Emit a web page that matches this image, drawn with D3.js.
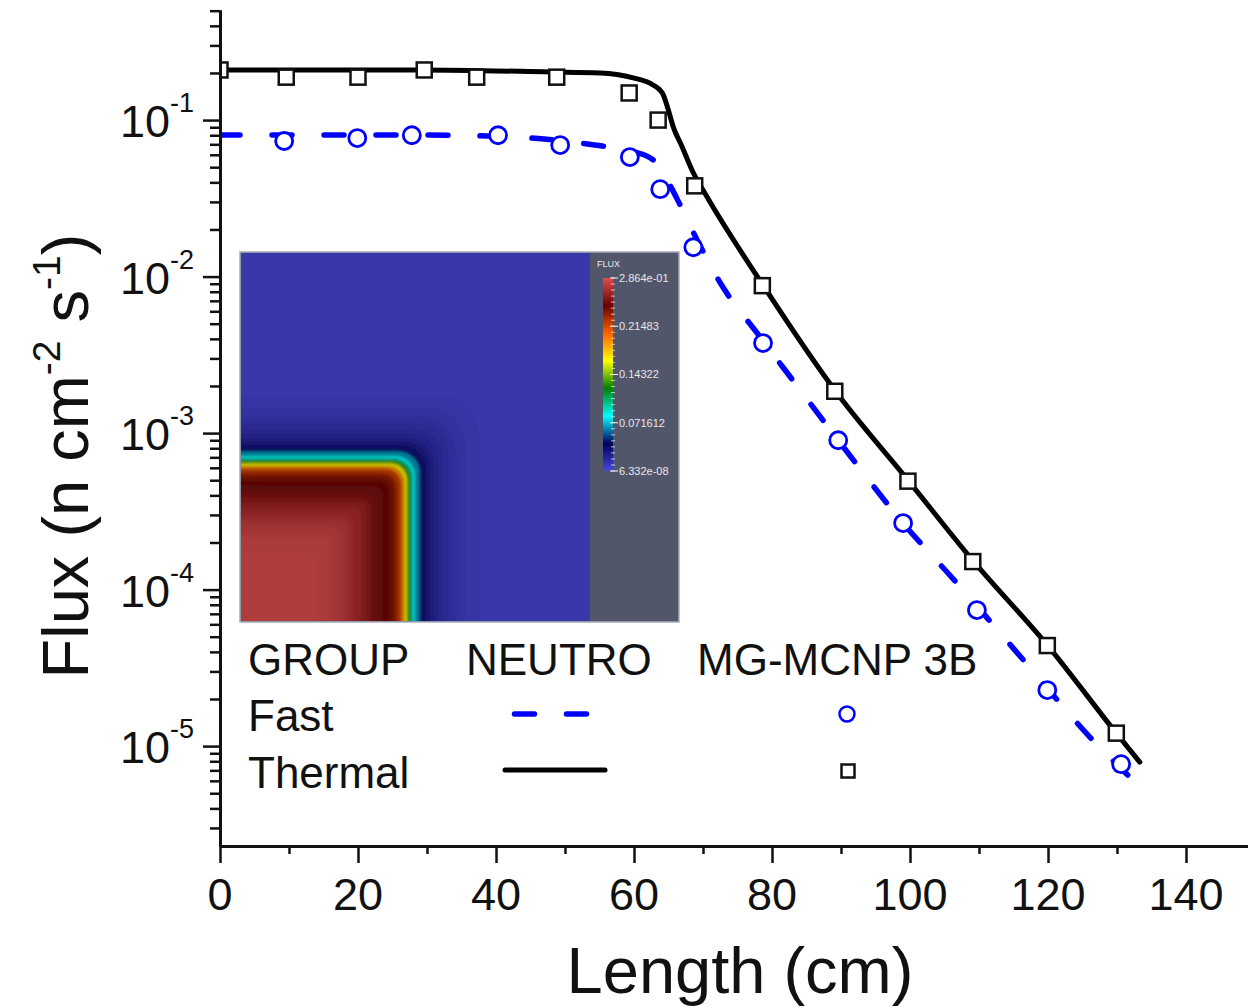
<!DOCTYPE html>
<html>
<head>
<meta charset="utf-8">
<script src="https://cdn.jsdelivr.net/npm/d3@7"></script>
<style>
  html, body { margin: 0; padding: 0; background: #fff; }
  svg { display: block; font-family: "Liberation Sans", Arial, sans-serif; }
</style>
</head>
<body>
<div id="chart"></div>
<script>
// NEUTRO solution (lines)
const thermalLength = [0, 29.0, 47.8, 55.1, 59.9, 62.3, 64.1, 64.9, 65.7, 67.0, 68.4, 70.6, 78.6, 89.1, 99.7, 109.4, 119.9, 129.9, 133.3];
const thermalFlux = [0.209, 0.209, 0.203, 0.200, 0.186, 0.172, 0.149, 0.119, 0.0902, 0.0671, 0.048, 0.0322, 0.00895, 0.00188, 5.01e-4, 1.48e-4, 4.42e-5, 1.21e-5, 7.9e-6];

const fastLength = [0, 30.1, 45.2, 52.2, 57.2, 60.1, 62.8, 64.8, 66.7, 68.8, 70.3, 72.0, 78.3, 83.0, 89.6, 99.0, 106.8, 116.7, 126.5, 132.3];
const fastFlux = [0.0802, 0.0802, 0.0767, 0.0713, 0.0662, 0.0625, 0.0555, 0.0414, 0.0286, 0.0184, 0.0137, 0.00993, 0.0041, 0.00218, 9.0e-4, 2.66e-4, 1.10e-4, 3.44e-5, 1.09e-5, 6.07e-6];

// MG-MCNP 3B reference (markers)
const mcnpThermalLength = [0, 9.6, 20.0, 29.6, 37.2, 48.8, 59.3, 63.5, 68.8, 78.6, 89.1, 99.7, 109.1, 119.9, 129.9];
const mcnpThermalFlux = [0.209, 0.188, 0.188, 0.209, 0.188, 0.188, 0.149, 0.100, 0.038, 0.00875, 1.85e-3, 4.93e-4, 1.51e-4, 4.39e-5, 1.21e-5];

const mcnpFastLength = [9.3, 19.9, 27.8, 40.3, 49.3, 59.4, 63.8, 68.6, 78.7, 89.6, 99.0, 109.7, 119.9, 130.6];
const mcnpFastFlux = [0.0735, 0.0767, 0.080, 0.080, 0.0692, 0.058, 0.0362, 0.0154, 0.00376, 9.0e-4, 2.66e-4, 7.4e-5, 2.28e-5, 7.67e-6];

// axis ticks
const xTickValues = [0, 20, 40, 60, 80, 100, 120, 140];
const xTickLabels = ["0", "20", "40", "60", "80", "100", "120", "140"];
const xMinorValues = [10, 30, 50, 70, 90, 110, 130];
const yTickValues = [1e-1, 1e-2, 1e-3, 1e-4, 1e-5];
const yTickExponents = ["-1", "-2", "-3", "-4", "-5"];

// legend
const legendHeaders = ["GROUP", "NEUTRO", "MG-MCNP 3B"];
const legendGroups = ["Fast", "Thermal"];

// inset: total flux across the core edge (distance from core centre, cm)
const insetEdge = [95, 90, 86, 83, 80, 76, 73.5, 72.2, 71.4, 69.6, 68.4, 67.4, 66.5, 65.3, 64, 62.5, 61, 59, 57, 54, 51, 48, 44, 40, 36, 30];
const insetFlux = [0.002, 0.004, 0.007, 0.011, 0.015, 0.026, 0.038, 0.05, 0.066, 0.082, 0.105, 0.135, 0.165, 0.19, 0.212, 0.232, 0.241, 0.246, 0.250, 0.256, 0.263, 0.270, 0.277, 0.282, 0.285, 0.2864];
const colorbarValues = [0.2864, 0.21483, 0.14322, 0.071612, 6.332e-8];
const colorbarLabels = ["2.864e-01", "0.21483", "0.14322", "0.071612", "6.332e-08"];

// ParaView "Rainbow Desaturated"
const rainbowStops = [0, 0.143, 0.285, 0.429, 0.571, 0.714, 0.857, 1];
const rainbowColors = ["#4747db", "#00005c", "#00ffff", "#008000", "#ffff00", "#ff6100", "#6b0000", "#e04d4d"];

const width = 1248, height = 1008;
const svg = d3.select("#chart").append("svg")
  .attr("width", width)
  .attr("height", height);

const x = d3.scaleLinear().domain([0, 150]).range([220, 1255]);
const y = d3.scaleLog().domain([2.3e-6, 0.505]).range([846, 10]);

const defs = svg.append("defs");
defs.append("clipPath").attr("id", "plotClip")
  .append("rect").attr("x", 220).attr("y", 0).attr("width", width - 220).attr("height", 846);

// ---- inset picture ----
const xi = d3.scaleLinear().domain([0, 140]).range([242, 590]);
const yi = d3.scaleLinear().domain([0, 155]).range([622, 252]);
const cMin = colorbarValues[4], cMax = colorbarValues[0];
const fluxColor = d3.scaleLinear()
  .domain(rainbowStops.map(t => cMin + t * (cMax - cMin)))
  .range(rainbowColors);
const shaded = v => d3.color(fluxColor(v)).darker(0.7).formatHex();

defs.append("clipPath").attr("id", "insetClip")
  .append("rect").attr("x", 241).attr("y", 253).attr("width", 349).attr("height", 368);
[["haloBlur", 5.5], ["edgeBlur", 1.0], ["coreBlur", 3]].forEach(([id, s]) => {
  defs.append("filter").attr("id", id)
    .attr("x", -0.2).attr("y", -0.2).attr("width", 1.4).attr("height", 1.4)
    .append("feGaussianBlur").attr("stdDeviation", s);
});
const grad = defs.append("linearGradient").attr("id", "cbGrad")
  .attr("x1", 0).attr("y1", 1).attr("x2", 0).attr("y2", 0);
grad.selectAll("stop").data(rainbowStops).join("stop")
  .attr("offset", d => d)
  .attr("stop-color", (d, i) => rainbowColors[i]);

const inset = svg.append("g");
inset.append("rect")
  .attr("x", 240).attr("y", 252).attr("width", 439).attr("height", 370)
  .attr("fill", "#52566b").attr("stroke", "#a9adbb").attr("stroke-width", 1.5);

const fieldClip = inset.append("g").attr("clip-path", "url(#insetClip)");
const bands = insetEdge.map((d, i) => ({ d, v: insetFlux[i] }));
const bandPath = b => {
  const x1 = xi(b.d), y1 = yi(b.d);
  const r = Math.max(8, 0.8 * (b.d - 45));
  return `M220,650 L220,${y1} L${x1 - r},${y1} A${r},${r} 0 0 1 ${x1},${y1 + r} L${x1},650 Z`;
};
const layers = [
  { id: "haloBlur", keep: b => b.d >= 73.5 },
  { id: "edgeBlur", keep: b => b.d < 73.5 && b.d > 62.5 },
  { id: "coreBlur", keep: b => b.d <= 62.5 }
];
layers.forEach((layer, li) => {
  const g = fieldClip.append("g").attr("filter", `url(#${layer.id})`);
  if (li === 0) {
    g.append("rect")
      .attr("x", 220).attr("y", 230).attr("width", 400).attr("height", 420)
      .attr("fill", shaded(0));
  }
  g.selectAll("path").data(bands.filter(layer.keep)).join("path")
    .attr("fill", b => shaded(b.v))
    .attr("d", bandPath);
});

// colorbar
const cb = d3.scaleLinear().domain([cMin, cMax]).range([471, 278]);
inset.append("rect")
  .attr("x", 603).attr("y", cb(cMax)).attr("width", 10).attr("height", cb(cMin) - cb(cMax))
  .attr("fill", "url(#cbGrad)");
const cbMinor = d3.range(0, 33).map(i => cMin + i * (cMax - cMin) / 32);
inset.selectAll("line.cbminor").data(cbMinor).join("line")
  .attr("x1", 611).attr("x2", 615)
  .attr("y1", d => cb(d)).attr("y2", d => cb(d))
  .attr("stroke", "#e6e6e6").attr("stroke-width", 0.8);
inset.selectAll("line.cbmajor").data(colorbarValues).join("line")
  .attr("x1", 610).attr("x2", 618)
  .attr("y1", d => cb(d)).attr("y2", d => cb(d))
  .attr("stroke", "#f2f2f2").attr("stroke-width", 1);
inset.selectAll("text.cblab").data(colorbarValues).join("text")
  .attr("x", 619).attr("y", d => cb(d) + 4)
  .attr("font-size", 11).attr("fill", "#e8e8e8")
  .text((d, i) => colorbarLabels[i]);
inset.append("text")
  .attr("x", 597).attr("y", 267)
  .attr("font-size", 9).attr("fill", "#e8e8e8")
  .text("FLUX");

// ---- series ----
const line = d3.line()
  .x(d => x(d[0]))
  .y(d => y(d[1]))
  .curve(d3.curveMonotoneX);

const plot = svg.append("g").attr("clip-path", "url(#plotClip)");

plot.append("path")
  .datum(fastLength.map((v, i) => [v, fastFlux[i]]))
  .attr("d", line)
  .attr("fill", "none").attr("stroke", "#0000ff").attr("stroke-width", 5.5)
  .attr("stroke-dasharray", "20,32").attr("stroke-linecap", "round");

plot.append("path")
  .datum(thermalLength.map((v, i) => [v, thermalFlux[i]]))
  .attr("d", line)
  .attr("fill", "none").attr("stroke", "#000").attr("stroke-width", 5)
  .attr("stroke-linejoin", "round").attr("stroke-linecap", "round");

plot.selectAll("rect.mcnpT")
  .data(mcnpThermalLength.map((v, i) => [v, mcnpThermalFlux[i]]))
  .join("rect")
  .attr("class", "mcnpT")
  .attr("x", d => x(d[0]) - 7.5).attr("y", d => y(d[1]) - 7.5)
  .attr("width", 15).attr("height", 15)
  .attr("fill", "#fff").attr("stroke", "#111").attr("stroke-width", 2.5);

plot.selectAll("circle.mcnpF")
  .data(mcnpFastLength.map((v, i) => [v, mcnpFastFlux[i]]))
  .join("circle")
  .attr("class", "mcnpF")
  .attr("cx", d => x(d[0])).attr("cy", d => y(d[1]))
  .attr("r", 8.5)
  .attr("fill", "#fff").attr("stroke", "#0000ff").attr("stroke-width", 2.8);

// ---- axes ----
const axisStyle = g => {
  g.select(".domain").attr("stroke-width", 3).attr("stroke", "#111");
  g.selectAll(".tick line").attr("stroke-width", 2.5).attr("stroke", "#111");
};

svg.append("g")
  .attr("transform", "translate(0,846)")
  .call(d3.axisBottom(x).tickValues(xMinorValues).tickSize(8).tickSizeOuter(0).tickFormat(""))
  .call(axisStyle);
svg.append("g")
  .attr("transform", "translate(0,846)")
  .call(d3.axisBottom(x).tickValues(xTickValues).tickSize(17).tickSizeOuter(0).tickFormat(""))
  .call(axisStyle);

const yMinor = y.ticks().filter(v => !yTickValues.some(t => Math.abs(t - v) / t < 1e-6));
svg.append("g")
  .attr("transform", "translate(220,0)")
  .call(d3.axisLeft(y).tickValues(yMinor).tickSize(10).tickSizeOuter(0).tickFormat(""))
  .call(axisStyle);
svg.append("g")
  .attr("transform", "translate(220,0)")
  .call(d3.axisLeft(y).tickValues(yTickValues).tickSize(17).tickSizeOuter(0).tickFormat(""))
  .call(axisStyle);

svg.selectAll("text.xlab").data(xTickValues).join("text")
  .attr("class", "xlab")
  .attr("x", d => x(d)).attr("y", 910)
  .attr("text-anchor", "middle").attr("font-size", 45).attr("fill", "#111")
  .text((d, i) => xTickLabels[i]);

const yl = svg.selectAll("text.ylab").data(yTickValues).join("text")
  .attr("class", "ylab")
  .attr("x", 194).attr("y", d => y(d) + 17)
  .attr("text-anchor", "end").attr("font-size", 45).attr("fill", "#111");
yl.append("tspan").text("10");
yl.append("tspan").attr("dy", -25).attr("font-size", 27).text((d, i) => yTickExponents[i]);

// axis titles
svg.append("text")
  .attr("x", 740).attr("y", 993)
  .attr("text-anchor", "middle").attr("font-size", 65).attr("fill", "#111")
  .text("Length (cm)");

const yt = svg.append("text")
  .attr("transform", "translate(88,456) rotate(-90)")
  .attr("text-anchor", "middle").attr("font-size", 65).attr("fill", "#111");
yt.append("tspan").text("Flux (n cm");
yt.append("tspan").attr("dy", -28).attr("font-size", 39).text("-2");
yt.append("tspan").attr("dy", 28).text(" s");
yt.append("tspan").attr("dy", -28).attr("font-size", 39).text("-1");
yt.append("tspan").attr("dy", 28).text(")");

// ---- legend ----
const legend = svg.append("g").attr("font-size", 44).attr("fill", "#111");
legend.selectAll("text.head").data(legendHeaders).join("text")
  .attr("class", "head")
  .attr("x", (d, i) => [248, 466, 697][i]).attr("y", 675)
  .text(d => d);
legend.selectAll("text.grp").data(legendGroups).join("text")
  .attr("class", "grp")
  .attr("x", 248).attr("y", (d, i) => 731 + i * 57)
  .text(d => d);

legend.append("line")
  .attr("x1", 514.5).attr("x2", 590).attr("y1", 714).attr("y2", 714)
  .attr("stroke", "#0000ff").attr("stroke-width", 5.5)
  .attr("stroke-dasharray", "20,32").attr("stroke-linecap", "round");
legend.append("line")
  .attr("x1", 505).attr("x2", 605).attr("y1", 770).attr("y2", 770)
  .attr("stroke", "#000").attr("stroke-width", 5).attr("stroke-linecap", "round");
legend.append("circle")
  .attr("cx", 847).attr("cy", 714).attr("r", 7.5)
  .attr("fill", "#fff").attr("stroke", "#0000ff").attr("stroke-width", 2.5);
legend.append("rect")
  .attr("x", 841.5).attr("y", 764.5).attr("width", 13).attr("height", 13)
  .attr("fill", "#fff").attr("stroke", "#111").attr("stroke-width", 2.5);
</script>
</body>
</html>
